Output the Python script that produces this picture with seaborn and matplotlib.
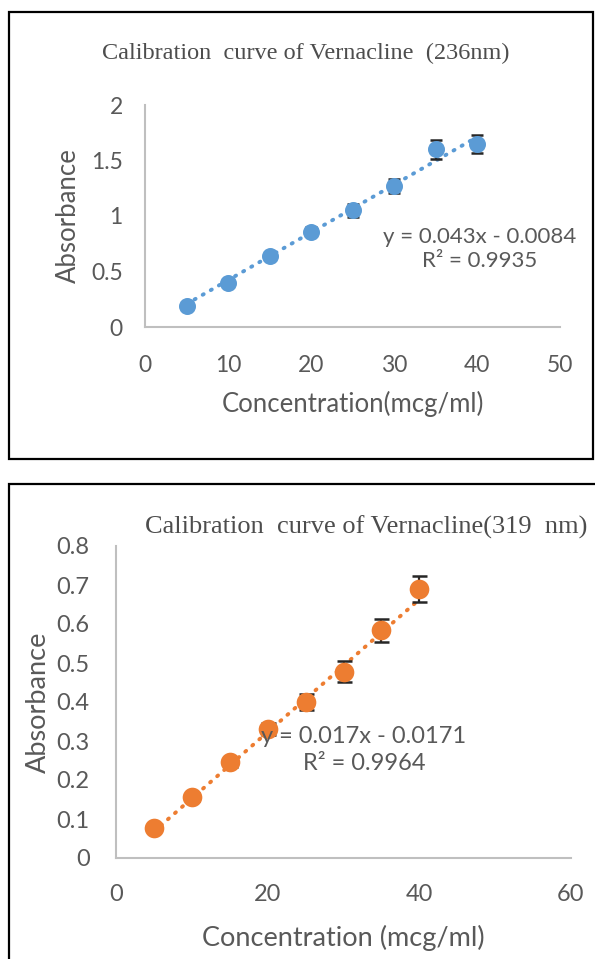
import numpy as np
import pandas as pd
import matplotlib
matplotlib.use("Agg")
import matplotlib.pyplot as plt
from matplotlib.patches import Rectangle
import seaborn as sns

# data
conc = [5, 10, 15, 20, 25, 30, 35, 40]

abs_236 = [0.19, 0.40, 0.64, 0.86, 1.05, 1.27, 1.60, 1.65]
err_236 = [0.02, 0.025, 0.03, 0.04, 0.055, 0.065, 0.085, 0.08]
slope_236, icpt_236 = 0.043, -0.0084

abs_319 = [0.077, 0.157, 0.245, 0.33, 0.40, 0.478, 0.584, 0.69]
err_319 = [0.008, 0.01, 0.012, 0.015, 0.021, 0.026, 0.029, 0.034]
slope_319, icpt_319 = 0.017, -0.0171

BLUE = "#5B9BD5"
ORANGE = "#ED7D31"
TEXT = "#595959"
SPINE = "#BFBFBF"
W, H = 595, 959

sns.set_theme(style="white")
plt.rcParams["font.family"] = ["Lato", "DejaVu Sans"]


def px_axes(fig, left, top, right, bottom):
    """Add axes using pixel coordinates of the plot area."""
    return fig.add_axes([left / W, 1 - bottom / H, (right - left) / W, (bottom - top) / H])


def draw_panel(ax, y, yerr, slope, icpt, color, msize, cap, xlim, xticks, ylim, yticks,
               fs_tick, fs_lab, xlabel, eq_pos, fs_eq, xpad, ypad, labpad, ylabpad):
    df = pd.DataFrame({"conc": conc, "abs": y})
    ax.errorbar(df["conc"], df["abs"], yerr=yerr, fmt="none", ecolor="#262626",
                elinewidth=1.6, capsize=cap, capthick=1.8, zorder=2)
    trend = pd.DataFrame({"x": [conc[0], conc[-1]]})
    trend["y"] = slope * trend["x"] + icpt
    sns.lineplot(data=trend, x="x", y="y", ax=ax, color=color, lw=2.8,
                 linestyle=(0, (0.3, 2.1)), dash_capstyle="round", zorder=1)
    sns.scatterplot(data=df, x="conc", y="abs", ax=ax, color=color, s=msize,
                    edgecolor=color, linewidth=0, zorder=3)
    ax.set_xlim(xlim)
    ax.set_ylim(ylim)
    ax.set_xticks(xticks)
    ax.set_yticks(yticks)
    ax.set_yticklabels([f"{v:g}" for v in yticks])
    ax.tick_params(axis="both", length=0, labelsize=fs_tick, labelcolor=TEXT)
    ax.tick_params(axis="x", pad=xpad)
    ax.tick_params(axis="y", pad=ypad)
    for side in ["top", "right"]:
        ax.spines[side].set_visible(False)
    for side in ["left", "bottom"]:
        ax.spines[side].set_color(SPINE)
        ax.spines[side].set_linewidth(1.5)
    ax.set_xlabel(xlabel, fontsize=fs_lab, color=TEXT, labelpad=labpad)
    ax.set_ylabel("Absorbance", fontsize=fs_lab, color=TEXT, labelpad=ylabpad)
    sign = "-" if icpt < 0 else "+"
    eq = f"y = {slope}x {sign} {abs(icpt)}"
    ax.text(eq_pos[0], eq_pos[1], eq + "\n" + f"R² = {eq_pos[2]}", transform=ax.transAxes,
            ha="center", va="center", fontsize=fs_eq, color=TEXT, linespacing=1.3,
            zorder=4)
    ax.patch.set_alpha(0)


fig = plt.figure(figsize=(W / 100, H / 100), dpi=100)
fig.patch.set_facecolor("white")

# black frames around each chart
fig.patches.append(Rectangle((9 / W, 1 - 459 / H), (593 - 9) / W, (459 - 12) / H,
                             transform=fig.transFigure, fill=False, ec="black", lw=1.6))
fig.patches.append(Rectangle((9 / W, 1 - 975 / H), (600 - 9) / W, (975 - 484) / H,
                             transform=fig.transFigure, fill=False, ec="black", lw=1.6))

# top chart (236 nm)
ax1 = px_axes(fig, 145, 105, 560, 327)
draw_panel(ax1, abs_236, err_236, slope_236, icpt_236, BLUE, 150, 4.5,
           (0, 50), [0, 10, 20, 30, 40, 50], (0, 2), [0, 0.5, 1, 1.5, 2],
           16.5, 18.5, "Concentration(mcg/ml)",
           ((480 - 145) / 415, 1 - (249 - 105) / 222, 0.9935), 16, 20, 16, 11, 7)
fig.text(306 / W, 1 - 53 / H, "Calibration  curve of Vernacline  (236nm)",
         ha="center", va="center", fontsize=17.5, color="#4d4d4d",
         family=["Liberation Serif", "DejaVu Serif"])

# bottom chart (319 nm)
ax2 = px_axes(fig, 116, 546, 571, 858)
draw_panel(ax2, abs_319, err_319, slope_319, icpt_319, ORANGE, 200, 5.4,
           (0, 60), [0, 20, 40, 60], (0, 0.8), [0, 0.1, 0.2, 0.3, 0.4, 0.5, 0.6, 0.7, 0.8],
           17, 19.5, "Concentration (mcg/ml)",
           ((364 - 116) / 455, 1 - (750 - 546) / 312, 0.9964), 17, 19, 19, 14, 4)
fig.text(366 / W, 1 - 527 / H, "Calibration  curve of Vernacline(319  nm)",
         ha="center", va="center", fontsize=19, color="#4d4d4d",
         family=["Liberation Serif", "DejaVu Serif"])

fig.savefig("out.png", dpi=100)
